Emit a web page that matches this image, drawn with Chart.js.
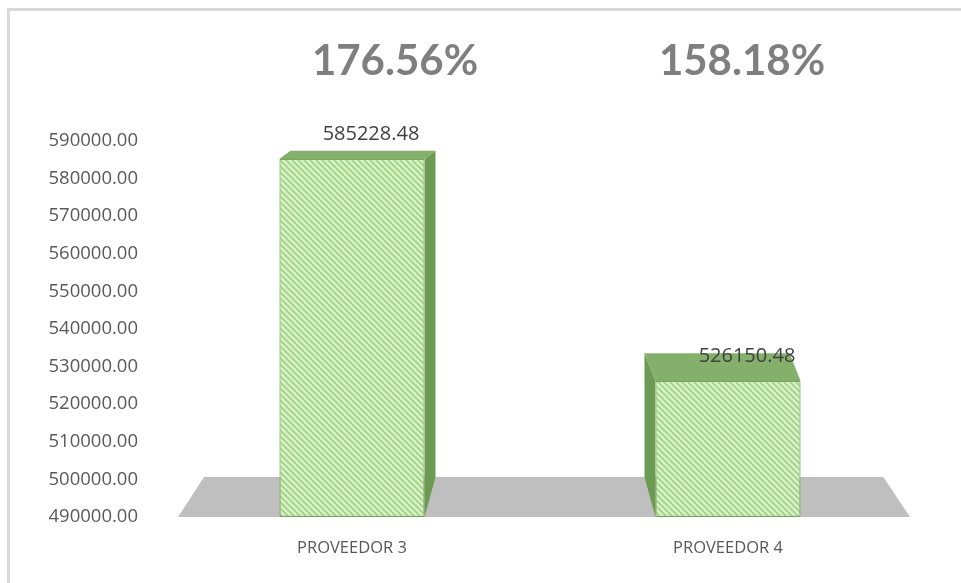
<!DOCTYPE html>
<html>
<head>
<meta charset="utf-8">
<script src="https://cdn.jsdelivr.net/npm/chart.js@4.4.1/dist/chart.umd.min.js"></script>
<style>
  html, body { margin: 0; padding: 0; background: #ffffff; }
  #wrap { position: relative; width: 961px; height: 583px; overflow: hidden; }
  #frame { position: absolute; left: 7px; top: 8px; width: 1000px; height: 700px;
           border-left: 3px solid #d9d9d9; border-top: 3px solid #d9d9d9; }
  canvas { position: absolute; left: 0; top: 0; }
</style>
</head>
<body>
<div id="wrap">
  <div id="frame"></div>
  <canvas id="c" width="961" height="583"></canvas>
</div>
<script>
// ---- data ----
const categories = ["PROVEEDOR 3", "PROVEEDOR 4"];
const values = [585228.48, 526150.48];
const percentLabels = ["176.56%", "158.18%"];
const yMin = 490000;
const yMax = 590000;
const yStep = 10000;

// ---- hatched fill ----
function makePattern() {
  const p = document.createElement('canvas');
  p.width = 6; p.height = 6;
  const g = p.getContext('2d');
  g.fillStyle = '#d8f1c6';
  g.fillRect(0, 0, 6, 6);
  g.strokeStyle = '#9fd083';
  g.lineWidth = 1.6;
  g.beginPath();
  g.moveTo(-1, -1); g.lineTo(7, 7);
  g.moveTo(-4, 2); g.lineTo(4, 10);
  g.moveTo(2, -4); g.lineTo(10, 4);
  g.stroke();
  return document.getElementById('c').getContext('2d').createPattern(p, 'repeat');
}

// ---- 3D plugin ----
const sx = 0.058, sy = 0.089;
function offsetFor(chart, xc, y) {
  const ca = chart.chartArea;
  const vx = (ca.left + ca.right) / 2;
  const vy = ca.top - 73;
  return { dx: (vx - xc) * sx, dy: (vy - y) * sy };
}

const threeD = {
  id: 'threeD',
  beforeDatasetsDraw(chart) {
    const ctx = chart.ctx;
    const ca = chart.chartArea;
    const vx = (ca.left + ca.right) / 2;
    const vy = ca.top - 73;
    // floor
    const fy = ca.bottom;
    const fl = ca.left + 14, fr = ca.right - 6;
    const fdy = (vy - fy) * sy;
    ctx.save();
    ctx.fillStyle = '#bfbfbf';
    ctx.beginPath();
    ctx.moveTo(fl, fy);
    ctx.lineTo(fl + (vx - fl) * 0.072, fy + fdy);
    ctx.lineTo(fr + (vx - fr) * 0.072, fy + fdy);
    ctx.lineTo(fr, fy);
    ctx.closePath();
    ctx.fill();
    // bars: side and top faces
    const meta = chart.getDatasetMeta(0);
    meta.data.forEach((bar) => {
      const p = bar.getProps(['x', 'y', 'base', 'width'], true);
      const x1 = p.x - p.width / 2, x2 = p.x + p.width / 2;
      const yt = p.y, yb = p.base;
      const ot = offsetFor(chart, p.x, yt);
      const ob = offsetFor(chart, p.x, yb);
      // side face
      const sideX = ot.dx > 0 ? x2 : x1;
      ctx.fillStyle = '#6b9a52';
      ctx.beginPath();
      ctx.moveTo(sideX, yt);
      ctx.lineTo(sideX + ot.dx, yt + ot.dy);
      ctx.lineTo(sideX + ob.dx, yb + ob.dy);
      ctx.lineTo(sideX, yb);
      ctx.closePath();
      ctx.fill();
      // top face
      ctx.fillStyle = '#84b06c';
      ctx.beginPath();
      ctx.moveTo(x1, yt);
      ctx.lineTo(x1 + ot.dx, yt + ot.dy);
      ctx.lineTo(x2 + ot.dx, yt + ot.dy);
      ctx.lineTo(x2, yt);
      ctx.closePath();
      ctx.fill();
    });
    ctx.restore();
  },
  afterDatasetsDraw(chart, args, opts) {
    const ctx = chart.ctx;
    const meta = chart.getDatasetMeta(0);
    ctx.save();
    ctx.textAlign = 'center';
    ctx.textBaseline = 'alphabetic';
    meta.data.forEach((bar, i) => {
      const p = bar.getProps(['x', 'y'], true);
      // value label
      ctx.fillStyle = '#404040';
      ctx.font = '20px "Open Sans", sans-serif';
      ctx.fillText(values[i].toFixed(2), p.x + opts.valueDx, p.y - 19);
      // percentage label
      ctx.fillStyle = '#7f7f7f';
      ctx.font = 'bold 42px Lato, sans-serif';
      ctx.fillText(percentLabels[i], p.x + opts.pctDx[i], opts.pctY);
    });
    ctx.restore();
  }
};

const ctx = document.getElementById('c').getContext('2d');
new Chart(ctx, {
  type: 'bar',
  data: {
    labels: categories,
    datasets: [{
      data: values,
      base: yMin,
      backgroundColor: makePattern(),
      borderColor: '#76a85a',
      borderWidth: 1.2,
      borderSkipped: false,
      barPercentage: 0.386,
      categoryPercentage: 1.0
    }]
  },
  options: {
    responsive: false,
    animation: false,
    devicePixelRatio: 1,
    layout: { padding: { top: 141, right: 45, left: 0, bottom: 0 } },
    plugins: {
      legend: { display: false },
      tooltip: { enabled: false },
      threeD: { valueDx: 19, pctDx: [43, 14], pctY: 75 }
    },
    scales: {
      x: {
        grid: { display: false, drawTicks: false },
        border: { display: false },
        ticks: { color: '#595959', font: { family: '"Open Sans", sans-serif', size: 16.5 }, padding: 21 },
        afterFit(s) { s.height = 66; }
      },
      y: {
        min: yMin, max: yMax,
        grid: { display: false, drawTicks: false },
        border: { display: false },
        ticks: {
          stepSize: yStep,
          color: '#595959',
          font: { family: '"Open Sans", sans-serif', size: 18.5 },
          padding: 26,
          callback: (v) => Number(v).toFixed(2)
        },
        afterFit(s) { s.width = 164; }
      }
    }
  },
  plugins: [threeD]
});
</script>
</body>
</html>
